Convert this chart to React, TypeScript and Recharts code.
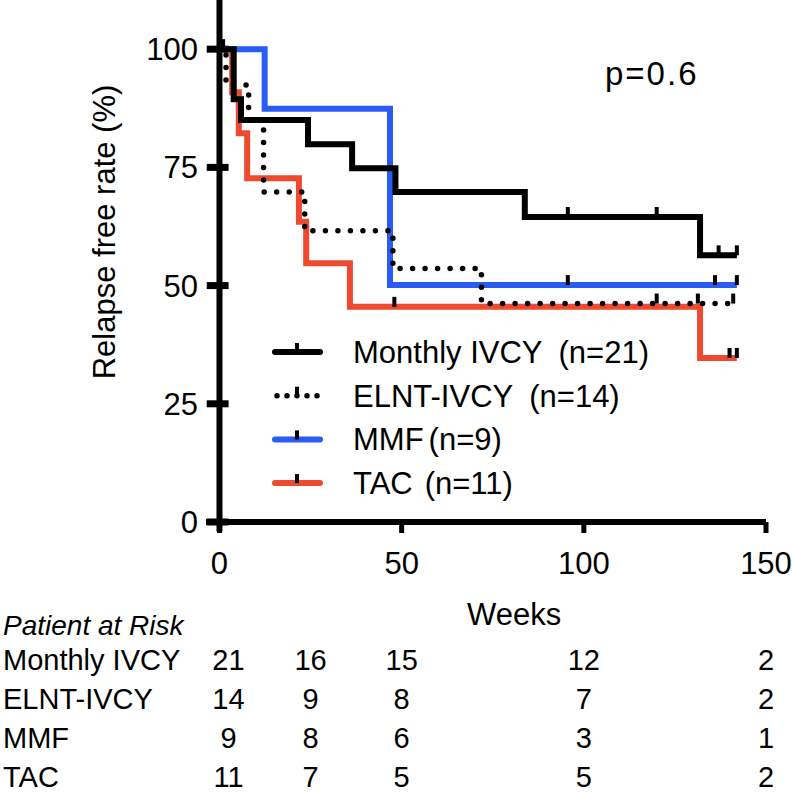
import React from 'react';
import { ComposedChart, Line, Scatter, XAxis, YAxis, ReferenceLine, Legend } from 'recharts';

const FONT = '"Liberation Sans", Arial, Helvetica, sans-serif';

// series names in legend order
const seriesNames = ['Monthly IVCY', 'ELNT-IVCY', 'MMF', 'TAC'];
const seriesCounts = ['(n=21)', '(n=14)', '(n=9)', '(n=11)'];

// Kaplan-Meier steps (weeks, relapse free %)
const monthlyWeeks = [0, 3.9, 5.9, 24.3, 36.4, 48.3, 83.8, 131.9, 142];
const monthlyValues = [100, 89.4, 85.0, 79.9, 74.8, 69.8, 64.5, 56.4, 56.4];
const elntWeeks = [0, 1.8, 8.0, 12.1, 23.4, 47.6, 71.9, 142];
const elntValues = [100, 92.4, 85.0, 69.8, 61.6, 53.6, 46.2, 46.2];
const mmfWeeks = [0, 12.4, 46.8, 142];
const mmfValues = [100, 87.4, 50.1, 50.1];
const tacWeeks = [0, 3.5, 5.3, 7.6, 21.8, 23.8, 35.8, 131.9, 142];
const tacValues = [100, 90.9, 82.2, 72.7, 63.5, 54.7, 45.5, 34.7, 34.7];

// censored observations
const monthlyCensorWeeks = [1, 95.6, 120, 137, 142];
const monthlyCensorValues = [100, 64.5, 64.5, 56.4, 56.4];
const elntCensorWeeks = [120, 131.3, 141];
const elntCensorValues = [46.2, 46.2, 46.2];
const mmfCensorWeeks = [95.6, 136, 142];
const mmfCensorValues = [50.1, 50.1, 50.1];
const tacCensorWeeks = [48, 140, 142];
const tacCensorValues = [45.5, 34.7, 34.7];

const xTicks = [0, 50, 100, 150];
const yTicks = [0, 25, 50, 75, 100];

// patients at risk table
const riskWeeks = [0, 25, 50, 100, 150];
const riskMonthly = [21, 16, 15, 12, 2];
const riskElnt = [14, 9, 8, 7, 2];
const riskMmf = [9, 8, 6, 3, 1];
const riskTac = [11, 7, 5, 5, 2];
const riskRows = [riskMonthly, riskElnt, riskMmf, riskTac];

const X_DOMAIN = [-3.7, 150];
const Y_DOMAIN = [0, 110.4];

const toPoints = (weeks: number[], values: number[]) => weeks.map((w, i) => ({ w, v: values[i] }));

const BLUE = '#2a5bf4';
const RED = '#ee4a30';

const seriesStyle: Record<string, { color: string; dotted: boolean; gap: number }> = {
  'Monthly IVCY': { color: '#000', dotted: false, gap: 16 },
  'ELNT-IVCY': { color: '#000', dotted: true, gap: 16 },
  MMF: { color: BLUE, dotted: false, gap: 5 },
  TAC: { color: RED, dotted: false, gap: 12 },
};

const CensorMark = (props: any) => {
  const { cx, cy } = props;
  if (cx == null || cy == null) return null;
  return <rect x={cx - 2} y={cy - 10} width={4} height={10} fill="#000" />;
};

const RiskTick = (props: any) => {
  const { x, y, payload, counts } = props;
  const idx = riskWeeks.indexOf(payload.value);
  return (
    <text x={x + (idx === 0 ? 9 : 0)} y={y} dy="0.71em" textAnchor="middle" fill="#000" fontSize={29} fontFamily={FONT}>
      {counts[idx]}
    </text>
  );
};

const renderLegend = (props: any) => {
  const items = [...(props.payload || [])]
    .filter((p: any) => seriesNames.includes(p.value))
    .sort((a: any, b: any) => seriesNames.indexOf(a.value) - seriesNames.indexOf(b.value));
  return (
    <svg width={440} height={180}>
      {items.map((item: any, i: number) => {
        const cy = 22 + i * 43.7;
        const st = seriesStyle[item.value];
        const idx = seriesNames.indexOf(item.value);
        return (
          <g key={item.value}>
            <line
              x1={st.dotted ? 7 : 5}
              x2={st.dotted ? 48 : 50}
              y1={cy}
              y2={cy}
              stroke={st.color}
              strokeWidth={st.dotted ? 5.5 : 6}
              strokeDasharray={st.dotted ? '0 10' : undefined}
              strokeLinecap="round"
            />
            <rect x={25} y={cy - 9} width={4} height={9} fill="#000" />
            <text x={83} y={cy + 11} fontSize={31} fontFamily={FONT} fill="#000">
              {item.value}
              <tspan dx={st.gap}>{seriesCounts[idx]}</tspan>
            </text>
          </g>
        );
      })}
    </svg>
  );
};

const App: React.FC = () => {
  return (
    <div style={{ position: 'absolute', left: 0, top: 0, width: 792, height: 793, background: '#fff' }}>
      <ComposedChart width={792} height={793} margin={{ top: 0, right: 26, left: 0, bottom: 0 }}>
        <XAxis
          type="number"
          dataKey="w"
          domain={X_DOMAIN}
          allowDataOverflow
          ticks={xTicks}
          interval={0}
          height={115}
          tickSize={11}
          tickMargin={19}
          axisLine={{ stroke: '#000', strokeWidth: 6 }}
          tickLine={{ stroke: '#000', strokeWidth: 5 }}
          tick={{ fill: '#000', fontSize: 31, fontFamily: FONT }}
        />
        {riskRows.map((counts, i) => (
          <XAxis
            key={`risk${i}`}
            xAxisId={`risk${i}`}
            type="number"
            dataKey="w"
            domain={X_DOMAIN}
            allowDataOverflow
            ticks={riskWeeks}
            interval={0}
            height={39}
            tickSize={0}
            tickMargin={12}
            axisLine={false}
            tickLine={false}
            tick={<RiskTick counts={counts} />}
          />
        ))}
        <YAxis
          type="number"
          dataKey="v"
          domain={Y_DOMAIN}
          allowDataOverflow
          ticks={yTicks}
          interval={0}
          width={206}
          tickSize={0}
          tickMargin={8}
          axisLine={false}
          tickLine={false}
          tick={{ fill: '#000', fontSize: 31, fontFamily: FONT }}
        />
        <ReferenceLine
          segment={[{ x: 0, y: -2 }, { x: 0, y: 110.4 }]}
          stroke="#000"
          strokeWidth={6}
          ifOverflow="visible"
        />
        {yTicks.map((t) => (
          <ReferenceLine
            key={`yt${t}`}
            segment={[{ x: -3.5, y: t }, { x: 2.5, y: t }]}
            stroke="#000"
            strokeWidth={7}
            ifOverflow="visible"
          />
        ))}
        <Line
          name="TAC"
          data={toPoints(tacWeeks, tacValues)}
          dataKey="v"
          type="stepAfter"
          stroke={RED}
          strokeWidth={6}
          dot={false}
          activeDot={false}
          isAnimationActive={false}
        />
        <Line
          name="MMF"
          data={toPoints(mmfWeeks, mmfValues)}
          dataKey="v"
          type="stepAfter"
          stroke={BLUE}
          strokeWidth={6}
          dot={false}
          activeDot={false}
          isAnimationActive={false}
        />
        <Line
          name="ELNT-IVCY"
          data={toPoints(elntWeeks, elntValues)}
          dataKey="v"
          type="stepAfter"
          stroke="#000"
          strokeWidth={5.5}
          strokeDasharray="0 12.5"
          strokeLinecap="round"
          dot={false}
          activeDot={false}
          isAnimationActive={false}
        />
        <Line
          name="Monthly IVCY"
          data={toPoints(monthlyWeeks, monthlyValues)}
          dataKey="v"
          type="stepAfter"
          stroke="#000"
          strokeWidth={6}
          dot={false}
          activeDot={false}
          isAnimationActive={false}
        />
        <Scatter data={toPoints(tacCensorWeeks, tacCensorValues)} dataKey="v" shape={<CensorMark />} legendType="none" isAnimationActive={false} />
        <Scatter data={toPoints(mmfCensorWeeks, mmfCensorValues)} dataKey="v" shape={<CensorMark />} legendType="none" isAnimationActive={false} />
        <Scatter data={toPoints(elntCensorWeeks, elntCensorValues)} dataKey="v" shape={<CensorMark />} legendType="none" isAnimationActive={false} />
        <Scatter data={toPoints(monthlyCensorWeeks, monthlyCensorValues)} dataKey="v" shape={<CensorMark />} legendType="none" isAnimationActive={false} />
        <Legend
          layout="vertical"
          align="center"
          verticalAlign="middle"
          content={renderLegend}
          wrapperStyle={{ position: 'absolute', left: 270, top: 330, width: 440, height: 180 }}
        />
      </ComposedChart>
      <svg
        width={792}
        height={793}
        style={{ position: 'absolute', left: 0, top: 0, pointerEvents: 'none' }}
        fontFamily={FONT}
        fill="#000"
      >
        <text x={115} y={232} fontSize={31} textAnchor="middle" transform="rotate(-90 115 232)">
          Relapse free rate (%)
        </text>
        <text x={467} y={625} fontSize={31}>Weeks</text>
        <text x={605} y={85} fontSize={33} letterSpacing={2}>p=0.6</text>
        <text x={3} y={635} fontSize={28} fontStyle="italic">Patient at Risk</text>
        {seriesNames.map((name, i) => (
          <text key={name} x={3} y={670 + i * 39} fontSize={29}>
            {name}
          </text>
        ))}
      </svg>
    </div>
  );
};

export default App;
